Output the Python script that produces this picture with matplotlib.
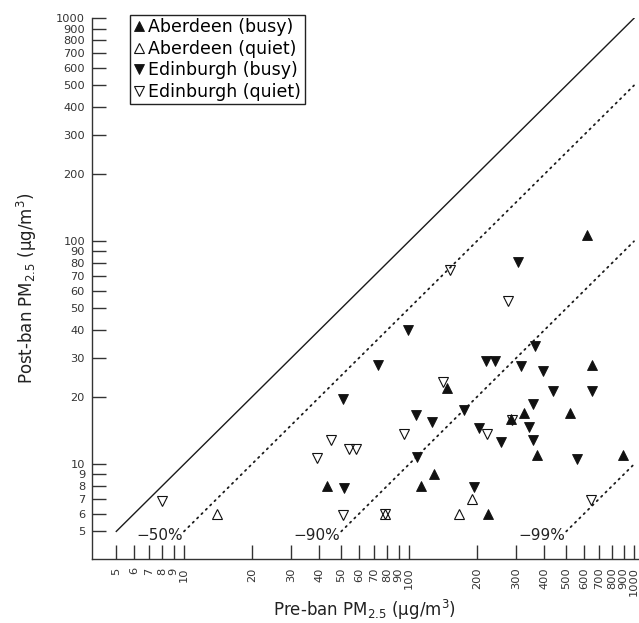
from matplotlib import pyplot as plt
from matplotlib.ticker import FixedLocator, NullLocator

# pre-ban vs post-ban PM2.5 per pub (ug/m3)
aberdeenBusyPre = [620, 650, 147, 325, 520, 283, 372, 895, 129, 113, 43, 224]
aberdeenBusyPost = [107, 28, 22, 17, 17, 16, 11, 11, 9, 8, 8, 6]

aberdeenQuietPre = [14, 78, 167, 190]
aberdeenQuietPost = [6, 6, 6, 7]

edinburghBusyPre = [305, 99, 73, 363, 221, 241, 315, 395, 51, 437, 653, 176,
                    355, 107, 126, 205, 341, 256, 356, 108, 556, 51.5, 195]
edinburghBusyPost = [81, 40, 28, 34, 29, 29, 27.6, 26.3, 19.6, 21.4, 21.4, 17.6,
                     18.6, 16.6, 15.5, 14.5, 14.7, 12.6, 12.8, 10.8, 10.6, 7.85, 7.9]

edinburghQuietPre = [8, 152, 275, 141, 286, 223, 95, 45, 54, 58, 39, 51, 78, 645]
edinburghQuietPost = [6.85, 74, 54, 23.5, 15.8, 13.7, 13.7, 12.8, 11.7, 11.7, 10.7, 5.9, 6, 6.9]

# reduction reference lines: label, factor, starting pre-ban value
reductionLabels = ["\u221250%", "\u221290%", "\u221299%"]
reductionFactors = [0.5, 0.1, 0.01]
reductionStarts = [10, 50, 500]

tickValues = [5, 6, 7, 8, 9, 10, 20, 30, 40, 50, 60, 70, 80, 90,
              100, 200, 300, 400, 500, 600, 700, 800, 900, 1000]

plt.rcParams['font.family'] = ['DejaVu Sans']

fig = plt.figure(figsize=(6.39, 6.23), dpi=100)
ax = fig.add_axes([92 / 639, 1 - 559 / 623, 546 / 639, 540.7 / 623])
ax.set_xscale('log')
ax.set_yscale('log')
ax.set_xlim(3.9, 1042)
ax.set_ylim(3.76, 1000)

# no change line
ax.plot([5, 1000], [5, 1000], color='#1a1a1a', linewidth=1.0)
for label, factor, start in zip(reductionLabels, reductionFactors, reductionStarts):
    ax.plot([start, 1000], [start * factor, 1000 * factor], color='#1a1a1a',
            linewidth=1.3, linestyle=(0, (0.8, 2.6)), dash_capstyle='round')
    ax.text(start * 0.985, 4.8, label, ha='right', va='center', fontsize=11, color='#222222')

ms = 7.2
ax.plot(aberdeenBusyPre, aberdeenBusyPost, '^', color='#111111', markersize=ms,
        markeredgewidth=0.6, label='Aberdeen (busy)')
ax.plot(aberdeenQuietPre, aberdeenQuietPost, '^', markerfacecolor='none', markeredgecolor='#111111',
        markersize=ms, markeredgewidth=0.8, label='Aberdeen (quiet)')
ax.plot(edinburghBusyPre, edinburghBusyPost, 'v', color='#111111', markersize=ms,
        markeredgewidth=0.6, label='Edinburgh (busy)')
ax.plot(edinburghQuietPre, edinburghQuietPost, 'v', markerfacecolor='none', markeredgecolor='#111111',
        markersize=ms, markeredgewidth=0.8, label='Edinburgh (quiet)')

for axis in [ax.xaxis, ax.yaxis]:
    axis.set_major_locator(FixedLocator(tickValues))
    axis.set_minor_locator(NullLocator())
ax.set_xticklabels([str(v) for v in tickValues], rotation=90)
ax.set_yticklabels([str(v) for v in tickValues])
ax.tick_params(axis='both', direction='in', length=10, width=1.0, colors='#333333',
               labelsize=8.2, labelcolor='#333333')
ax.tick_params(axis='x', pad=6)
ax.tick_params(axis='y', pad=5)

for side in ['top', 'right']:
    ax.spines[side].set_visible(False)
for side in ['left', 'bottom']:
    ax.spines[side].set_color('#333333')
    ax.spines[side].set_linewidth(1.0)

ax.set_xlabel('Pre-ban PM$_{2.5}$ (\u03bcg/m$^3$)', fontsize=12, color='#222222', labelpad=1)
ax.set_ylabel('Post-ban PM$_{2.5}$ (\u03bcg/m$^3$)', fontsize=12, color='#222222', labelpad=12)

leg = ax.legend(loc='upper left', bbox_to_anchor=(130 / 639, 1 - 15 / 623),
                bbox_transform=fig.transFigure, borderaxespad=0, fontsize=12.5,
                handlelength=0.6, handletextpad=0.25, labelspacing=0.2, borderpad=0.2,
                fancybox=False, framealpha=1, edgecolor='#222222')
leg.get_frame().set_linewidth(1.0)

fig.savefig('out.png', dpi=100)
